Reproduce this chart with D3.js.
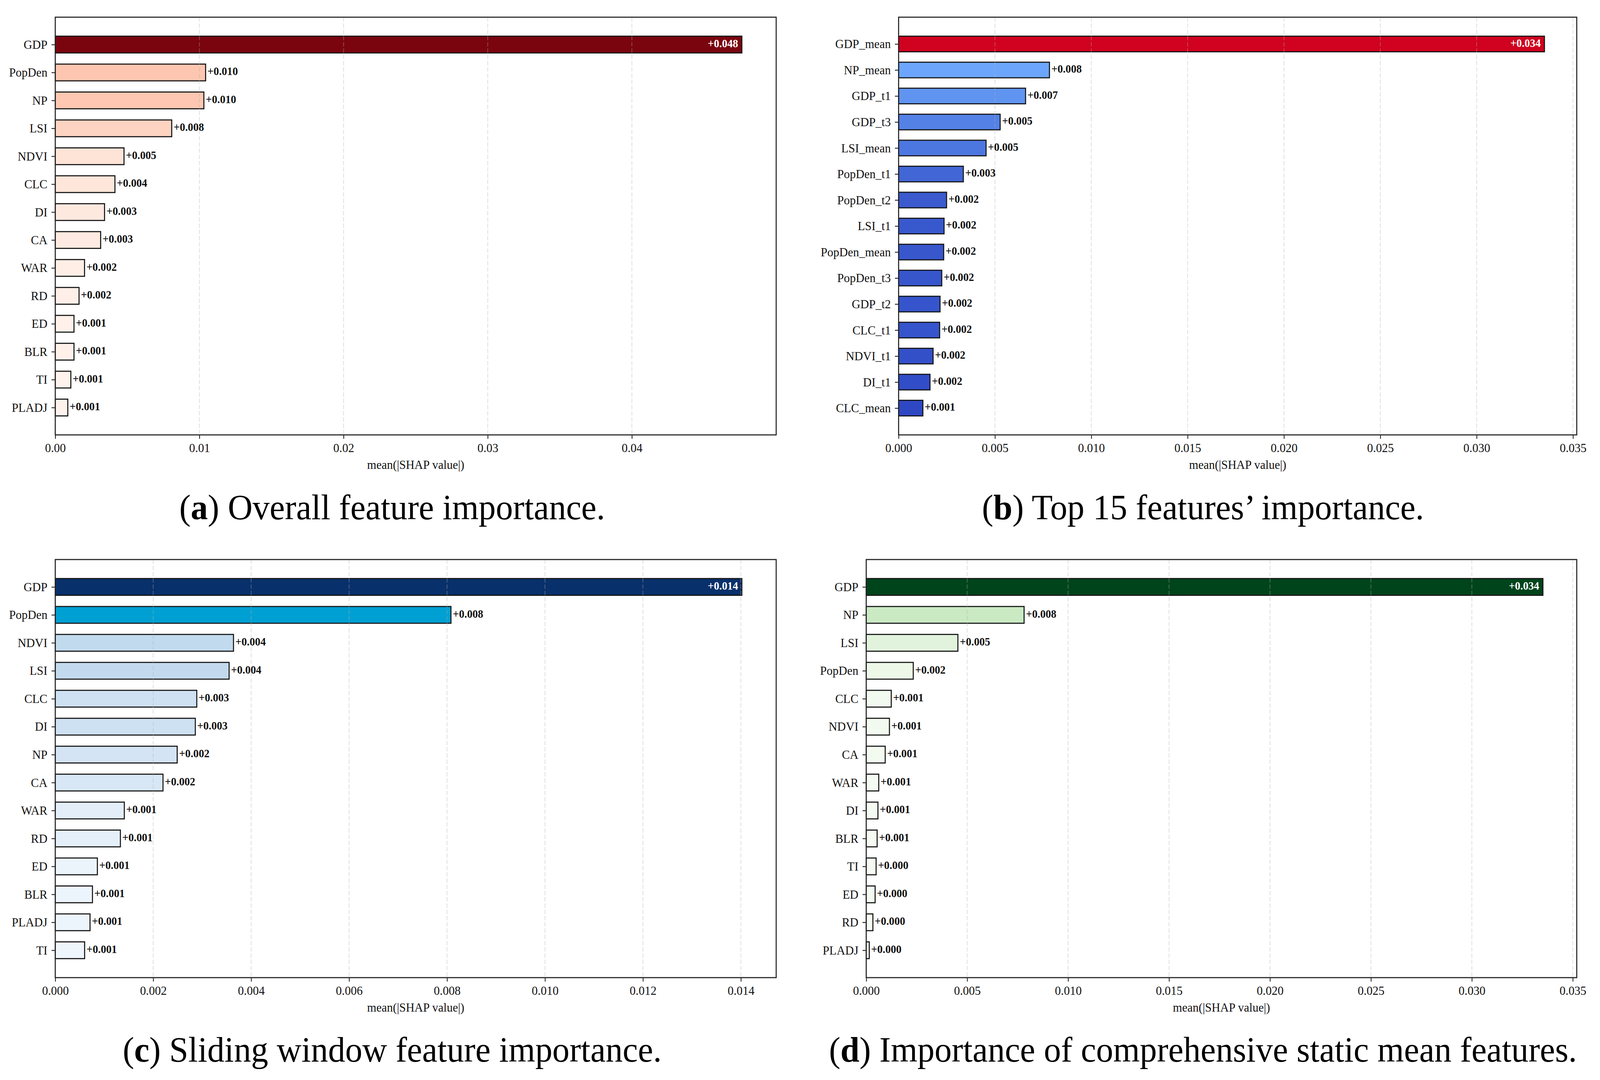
<!DOCTYPE html>
<html>
<head>
<meta charset="utf-8">
<script src="https://cdn.jsdelivr.net/npm/d3@7"></script>
<style>
  html, body { margin: 0; padding: 0; background: #fff; overflow: hidden; }
  #figure { width: 100vw; height: 100vh; }
  text { font-family: "Liberation Serif", "Times New Roman", serif; }
</style>
</head>
<body>
<div id="figure"></div>
<script>
// (a) overall importance
const featuresA = ['GDP', 'PopDen', 'NP', 'LSI', 'NDVI', 'CLC', 'DI', 'CA', 'WAR', 'RD', 'ED', 'BLR', 'TI', 'PLADJ'];
const valuesA = [0.04763, 0.01043, 0.01031, 0.00808, 0.00477, 0.00414, 0.00342, 0.00315, 0.00203, 0.00165, 0.00130, 0.00130, 0.00108, 0.00087];
const ticksA = [0, 0.01, 0.02, 0.03, 0.04];

// (b) top 15
const featuresB = ['GDP_mean', 'NP_mean', 'GDP_t1', 'GDP_t3', 'LSI_mean', 'PopDen_t1', 'PopDen_t2', 'LSI_t1', 'PopDen_mean', 'PopDen_t3', 'GDP_t2', 'CLC_t1', 'NDVI_t1', 'DI_t1', 'CLC_mean'];
const valuesB = [0.03352, 0.00783, 0.00659, 0.00527, 0.00454, 0.00336, 0.00249, 0.00236, 0.00234, 0.00224, 0.00215, 0.00213, 0.00179, 0.00163, 0.00126];
const ticksB = [0, 0.005, 0.010, 0.015, 0.020, 0.025, 0.030, 0.035];

// (c) sliding window
const featuresC = ['GDP', 'PopDen', 'NDVI', 'LSI', 'CLC', 'DI', 'NP', 'CA', 'WAR', 'RD', 'ED', 'BLR', 'PLADJ', 'TI'];
const valuesC = [0.01402, 0.00808, 0.00364, 0.00355, 0.00289, 0.00286, 0.00249, 0.00220, 0.00141, 0.00133, 0.00086, 0.00076, 0.00071, 0.00060];
const ticksC = [0, 0.002, 0.004, 0.006, 0.008, 0.010, 0.012, 0.014];

// (d) static mean features
const featuresD = ['GDP', 'NP', 'LSI', 'PopDen', 'CLC', 'NDVI', 'CA', 'WAR', 'DI', 'BLR', 'TI', 'ED', 'RD', 'PLADJ'];
const valuesD = [0.03352, 0.00782, 0.00454, 0.00233, 0.00124, 0.00115, 0.00094, 0.00062, 0.00058, 0.00054, 0.00049, 0.00044, 0.00033, 0.00015];
const ticksD = [0, 0.005, 0.010, 0.015, 0.020, 0.025, 0.030, 0.035];

const captionLetters = ['a', 'b', 'c', 'd'];
const captionTexts = [
    'Overall feature importance.',
    'Top 15 features\u2019 importance.',
    'Sliding window feature importance.',
    'Importance of comprehensive static mean features.'
];

const xLabel = 'mean(|SHAP value|)';

const W = 4300;
const H = 2764;

// drawn in a fixed 4300x2764 coordinate space, stretched to the window
const svg = d3.select('#figure').append('svg')
    .attr('viewBox', `0 0 ${W} ${H}`)
    .attr('preserveAspectRatio', 'none')
    .attr('width', '100%')
    .attr('height', '100%')
    .style('display', 'block');

// colour rules for each panel
const redScale = d3.scaleSequential(d3.interpolateReds).domain([0, d3.max(valuesA) * 1.04]);
const royalScale = d3.scaleLinear()
    .domain(d3.extent(valuesB.slice(1)))
    .range(['#2e48c4', '#6ca6fc']);
const bluesScale = d3.scaleSequential(d3.interpolateBlues).domain([0, d3.max(valuesC)]);
const greensScale = d3.scaleSequential(d3.interpolateGreens).domain([0, d3.max(valuesD)]);

const panels = [
    { features: featuresA, values: valuesA, ticks: ticksA, fmt: d3.format('.2f'),
      box: { left: 148.5, right: 2086, top: 44, bottom: 1113 },
      color: (v, i) => redScale(v), capX: 1054, capY: 1329 },
    { features: featuresB, values: valuesB, ticks: ticksB, fmt: d3.format('.3f'),
      box: { left: 2415, right: 4237.5, top: 44, bottom: 1113 },
      color: (v, i) => (i === 0 ? '#d0021f' : royalScale(v)), capX: 3233, capY: 1329 },
    { features: featuresC, values: valuesC, ticks: ticksC, fmt: d3.format('.3f'),
      box: { left: 148.5, right: 2086, top: 1432, bottom: 2502 },
      color: (v, i) => (i === 1 ? '#00a0d2' : bluesScale(v)), capX: 1054, capY: 2717 },
    { features: featuresD, values: valuesD, ticks: ticksD, fmt: d3.format('.3f'),
      box: { left: 2328, right: 4237.5, top: 1432, bottom: 2502 },
      color: (v, i) => greensScale(v), capX: 3233, capY: 2717 }
];

const labelFormat = d3.format('.3f');

panels.forEach((p, k) => {
    const n = p.features.length;
    const b = p.box;
    const maxV = d3.max(p.values);

    const x = d3.scaleLinear()
        .domain([0, maxV * 1.05])
        .range([b.left, b.right]);

    // bar height 0.6, 5% margins like matplotlib
    const pad = 0.05 * (n - 1 + 0.6);
    const y = d3.scaleLinear()
        .domain([-0.3 - pad, n - 1 + 0.3 + pad])
        .range([b.top, b.bottom]);

    const barH = y(0.3) - y(-0.3);
    const rows = p.values.map((v, i) => ({ name: p.features[i], value: v, i }));

    const g = svg.append('g').attr('class', `panel panel--${captionLetters[k]}`);

    g.append('g').attr('class', 'bars')
        .selectAll('rect').data(rows)
        .enter().append('rect')
        .attr('x', x(0))
        .attr('y', d => y(d.i) - barH / 2)
        .attr('width', d => x(d.value) - x(0))
        .attr('height', barH)
        .attr('fill', d => p.color(d.value, d.i))
        .attr('stroke', '#151515')
        .attr('stroke-width', 2.8);

    // dashed grid drawn over the bars
    g.append('g').attr('class', 'grid')
        .selectAll('line').data(p.ticks)
        .enter().append('line')
        .attr('x1', d => x(d))
        .attr('x2', d => x(d))
        .attr('y1', b.top)
        .attr('y2', b.bottom)
        .attr('stroke', '#b0b0b0')
        .attr('stroke-opacity', 0.35)
        .attr('stroke-width', 2.4)
        .attr('stroke-dasharray', '11,5');

    g.append('rect')
        .attr('x', b.left)
        .attr('y', b.top)
        .attr('width', b.right - b.left)
        .attr('height', b.bottom - b.top)
        .attr('fill', 'none')
        .attr('stroke', '#222')
        .attr('stroke-width', 2.8);

    const xAxis = d3.axisBottom(x)
        .tickValues(p.ticks)
        .tickFormat(p.fmt)
        .tickSize(10)
        .tickPadding(11);

    const xAxisG = g.append('g').attr('class', 'axis axis--x')
        .attr('transform', `translate(0,${b.bottom})`)
        .call(xAxis);

    const yAxis = d3.axisLeft(y)
        .tickValues(d3.range(n))
        .tickFormat(i => p.features[i])
        .tickSize(10)
        .tickPadding(11);

    const yAxisG = g.append('g').attr('class', 'axis axis--y')
        .attr('transform', `translate(${b.left},0)`)
        .call(yAxis);

    [xAxisG, yAxisG].forEach(a => {
        a.select('.domain').remove();
        a.selectAll('line').attr('stroke', '#222').attr('stroke-width', 2.2);
        a.selectAll('text')
            .attr('fill', '#111')
            .style('font-family', '"Liberation Serif", "Times New Roman", serif')
            .style('font-size', '32px');
    });

    g.append('text')
        .attr('class', 'x-label')
        .attr('x', (b.left + b.right) / 2)
        .attr('y', b.bottom + 87)
        .attr('text-anchor', 'middle')
        .attr('fill', '#111')
        .style('font-size', '32px')
        .text(xLabel);

    // value labels: inside the top bar, outside the rest
    g.append('g').attr('class', 'value-labels')
        .selectAll('text').data(rows)
        .enter().append('text')
        .attr('x', d => (d.i === 0 ? x(d.value) - 10 : x(d.value) + 5))
        .attr('y', d => y(d.i) + 7)
        .attr('text-anchor', d => (d.i === 0 ? 'end' : 'start'))
        .attr('fill', d => (d.i === 0 ? '#fff' : '#111'))
        .style('font-size', '29px')
        .style('font-weight', 'bold')
        .text(d => '+' + labelFormat(d.value));

    const caption = svg.append('text')
        .attr('class', 'caption')
        .attr('x', p.capX)
        .attr('y', p.capY)
        .attr('text-anchor', 'middle')
        .attr('fill', '#000')
        .style('font-size', '92px');

    caption.append('tspan').text('(');
    caption.append('tspan').style('font-weight', 'bold').text(captionLetters[k]);
    caption.append('tspan').text(') ' + captionTexts[k]);
});
</script>
</body>
</html>
